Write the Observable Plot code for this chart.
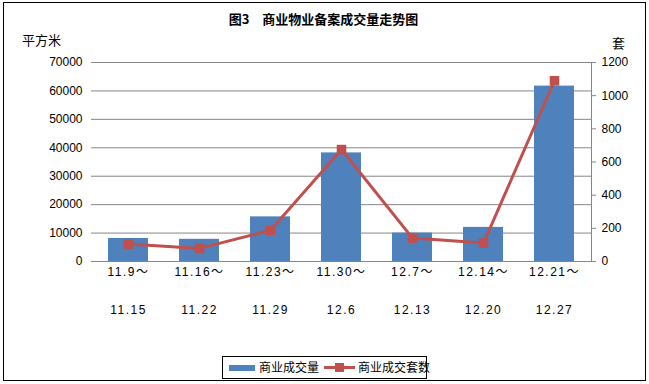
<!DOCTYPE html>
<html>
<head>
<meta charset="utf-8">
<script src="https://cdn.jsdelivr.net/npm/d3@7"></script>
<script src="https://cdn.jsdelivr.net/npm/@observablehq/plot@0.6"></script>
<style>
  html, body { margin: 0; padding: 0; background: #fff; }
  #wrap { position: relative; width: 649px; height: 384px; overflow: hidden; background: #fff;
          font-family: "Liberation Sans", "Noto Sans CJK SC", sans-serif; }
  #chart { position: absolute; left: 0; top: 0; }
  #chart g[aria-label="x-axis tick label"] text { letter-spacing: 1.5px; }
  .abs { position: absolute; white-space: nowrap; line-height: 1; }
  #border { position: absolute; left: 3px; top: 2px; width: 641px; height: 377px; border: 1px solid #000; pointer-events: none; }
  #title { left: 0; width: 647px; top: 12px; text-align: center; font-size: 13px; font-weight: bold; font-family: "Noto Sans CJK SC", sans-serif; }
  #unitL { left: 22px; top: 33px; font-size: 13px; font-family: "Noto Sans CJK SC", sans-serif; }
  #unitR { left: 612px; top: 36px; font-size: 13px; font-family: "Noto Sans CJK SC", sans-serif; }
  #legend { position: absolute; left: 222px; top: 356px; width: 203px; height: 21px; border: 1px solid #000; background: #fff; font-family: "Noto Sans CJK SC", sans-serif; font-size: 12px; }
</style>
</head>
<body>
<div id="wrap">
  <div id="chart"></div>
  <div id="border"></div>
  <div id="title" class="abs"></div>
  <div id="unitL" class="abs"></div>
  <div id="unitR" class="abs"></div>
  <div id="legend"></div>
</div>
<script>
// ---- data ----
const titleText = "图3\u3000商业物业备案成交量走势图";
const leftUnit = "平方米";
const rightUnit = "套";
const periodStart = ["11.9～", "11.16～", "11.23～", "11.30～", "12.7～", "12.14～", "12.21～"];
const periodEnd = ["11.15", "11.22", "11.29", "12.6", "12.13", "12.20", "12.27"];
const areaValues = [8100, 7800, 15700, 38200, 10000, 12000, 61700];   // 商业成交量 (平方米)
const unitValues = [105, 79, 188, 675, 141, 111, 1090];               // 商业成交套数 (套)
const leftTicks = [0, 10000, 20000, 30000, 40000, 50000, 60000, 70000];
const rightTicks = [0, 200, 400, 600, 800, 1000, 1200];
const seriesNames = ["商业成交量", "商业成交套数"];
const colors = ["#4F81BD", "#C0504D"];

const periods = periodStart.map((s, i) => s + "|" + periodEnd[i]);
const data = periods.map((p, i) => ({period: p, area: areaValues[i], units: unitValues[i]}));
const leftMax = leftTicks[leftTicks.length - 1];
const rightMax = rightTicks[rightTicks.length - 1];
const k = leftMax / rightMax;  // maps right axis onto the shared y scale

const chart = Plot.plot({
  width: 649,
  height: 384,
  marginLeft: 91,
  marginRight: 58,
  marginTop: 62,
  marginBottom: 123,
  style: {fontFamily: "'Liberation Sans', 'Noto Sans CJK SC', sans-serif", fontSize: "12px", color: "#000", background: "transparent"},
  x: {domain: periods, paddingInner: 0.43, paddingOuter: 0.215, axis: null, label: null},
  y: {domain: [0, leftMax], axis: null, label: null},
  marks: [
    Plot.gridY(leftTicks, {stroke: "#868686", strokeOpacity: 1, strokeWidth: 1}),
    Plot.axisY(leftTicks, {anchor: "left", label: null, tickSize: 0, tickPadding: 9, tickFormat: d => String(d), fill: "#000", fontSize: 12}),
    Plot.axisY(rightTicks.map(v => v * k), {anchor: "right", label: null, tickSize: 4, tickPadding: 6, stroke: "#868686", strokeOpacity: 1, tickFormat: d => String(Math.round(d / k)), fill: "#000", fontSize: 12}),
    Plot.frame({anchor: "right", stroke: "#868686", strokeOpacity: 1}),
    Plot.barY(data, {x: "period", y: "area", fill: colors[0]}),
    Plot.ruleY([0], {stroke: "#868686", strokeOpacity: 1}),
    Plot.axisX({anchor: "bottom", label: null, tickSize: 0, tickPadding: 6, tickFormat: d => periodStart[periods.indexOf(d)], fill: "#000", fontSize: 12}),
    Plot.axisX({anchor: "bottom", label: null, tickSize: 0, tickPadding: 44, tickFormat: d => periodEnd[periods.indexOf(d)], fill: "#000", fontSize: 12}),
    Plot.line(data, {x: "period", y: d => d.units * k, stroke: colors[1], strokeWidth: 3}),
    Plot.dot(data, {x: "period", y: d => d.units * k, symbol: "square", r: 5.4, fill: colors[1], stroke: "none"})
  ]
});
document.getElementById("chart").appendChild(chart);

document.getElementById("title").textContent = titleText;
document.getElementById("unitL").textContent = leftUnit;
document.getElementById("unitR").textContent = rightUnit;

// legend
const lg = document.getElementById("legend");
lg.innerHTML = `
  <div class="abs" style="left:6px;top:8px;width:26px;height:6px;background:${colors[0]}"></div>
  <div class="abs" style="left:36px;top:4px;">${seriesNames[0]}</div>
  <div class="abs" style="left:101px;top:9px;width:31px;height:3px;background:${colors[1]}"></div>
  <div class="abs" style="left:112px;top:6px;width:9px;height:9px;background:${colors[1]}"></div>
  <div class="abs" style="left:135px;top:4px;">${seriesNames[1]}</div>
`;
</script>
</body>
</html>
